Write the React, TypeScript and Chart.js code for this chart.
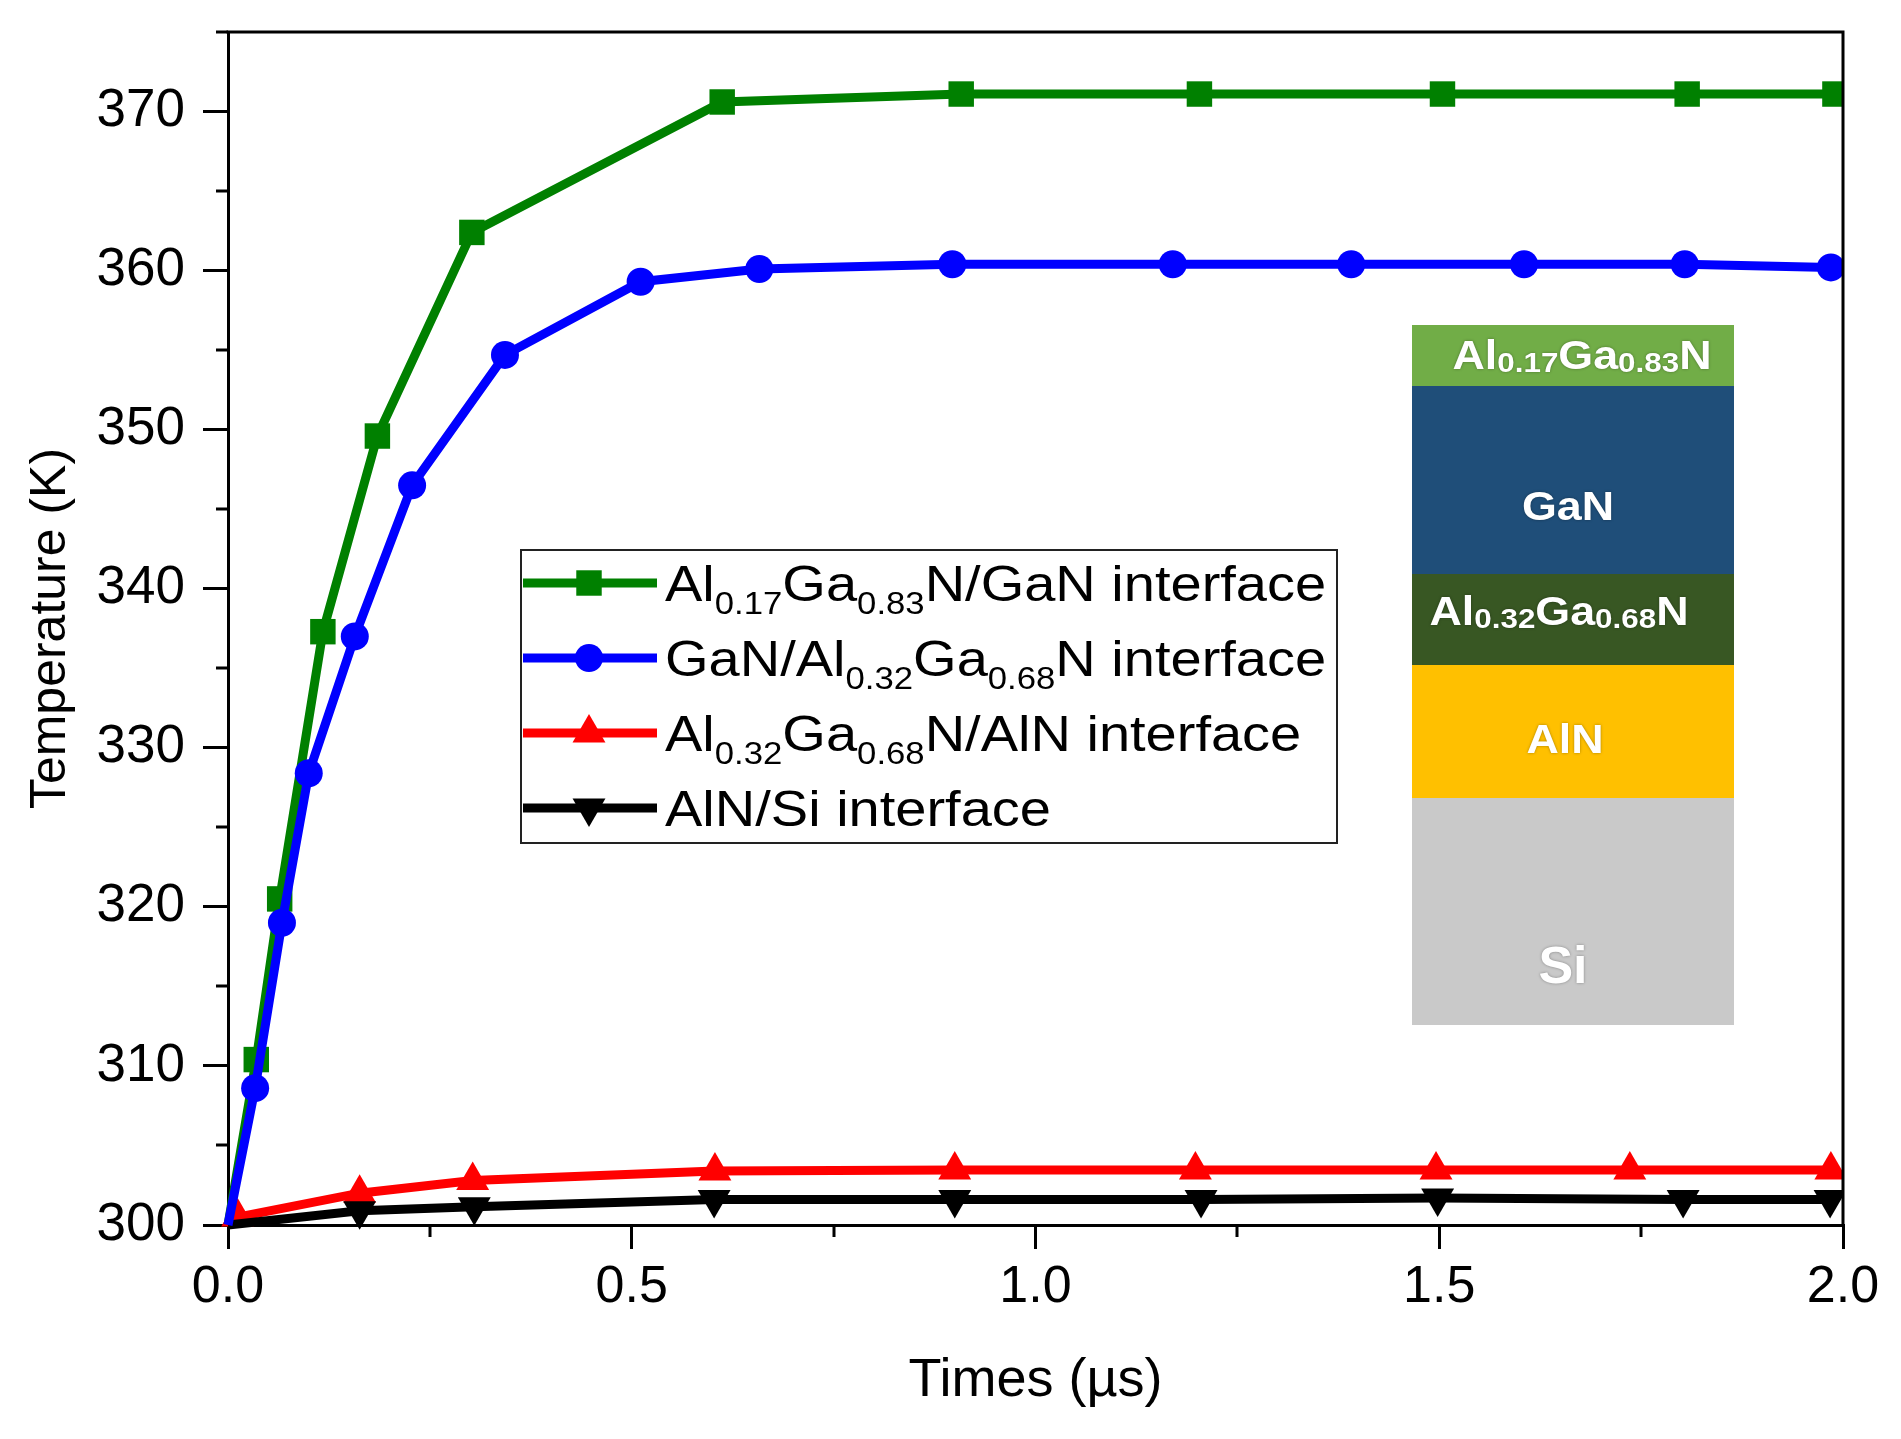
import React, { useEffect, useRef } from 'react';
import { Chart, registerables } from 'chart.js';

Chart.register(...registerables);

// ---------- data ----------
const SERIES_LABELS = [
  'Al_{0.17}Ga_{0.83}N/GaN interface',
  'GaN/Al_{0.32}Ga_{0.68}N interface',
  'Al_{0.32}Ga_{0.68}N/AlN interface',
  'AlN/Si interface',
];

const GREEN_T = [0, 0.035, 0.064, 0.1175, 0.185, 0.302, 0.612, 0.908, 1.203, 1.504, 1.807, 1.99];
const GREEN_K = [300, 310.4, 320.5, 337.3, 349.6, 362.4, 370.6, 371.1, 371.1, 371.1, 371.1, 371.1];

const BLUE_T = [0, 0.0336, 0.0668, 0.1, 0.157, 0.228, 0.343, 0.511, 0.658, 0.897, 1.17, 1.391, 1.605, 1.804, 1.985];
const BLUE_K = [300, 308.6, 319.0, 328.4, 337.0, 346.5, 354.7, 359.3, 360.1, 360.4, 360.4, 360.4, 360.4, 360.4, 360.2];

const RED_T = [0.012, 0.163, 0.303, 0.603, 0.9, 1.198, 1.496, 1.736, 1.985];
const RED_K = [300.5, 302.0, 302.8, 303.4, 303.45, 303.45, 303.45, 303.45, 303.45];

const BLACK_T = [0, 0.163, 0.305, 0.602, 0.9, 1.205, 1.498, 1.802, 1.984];
const BLACK_K = [300, 300.9, 301.15, 301.6, 301.6, 301.6, 301.7, 301.6, 301.6];

const X_MAJOR = [0, 0.5, 1.0, 1.5, 2.0];
const X_MINOR = [0.25, 0.75, 1.25, 1.75];
const Y_MAJOR = [300, 310, 320, 330, 340, 350, 360, 370];
const Y_MINOR = [305, 315, 325, 335, 345, 355, 365, 375];

const X_TITLE = 'Times (µs)';
const Y_TITLE = 'Temperature (K)';

const INSET_LAYERS = ['Al_{0.17}Ga_{0.83}N', 'GaN', 'Al_{0.32}Ga_{0.68}N', 'AlN', 'Si'];
const INSET_THICKNESS = [61, 188, 91, 133, 227];
const INSET_COLORS = ['#71AD47', '#1F4E79', '#385723', '#FFC000', '#C9C9C9'];

// ---------- styles ----------
const FAMILY = '"Liberation Sans", Arial, Helvetica, sans-serif';
const COLORS = ['#008000', '#0000FF', '#FF0000', '#000000'];
const STYLES = ['rect', 'circle', 'triangle', 'triangle'];
const ROTATIONS = [0, 0, 0, 180];
const RADII = [18, 14, 19, 19];
const ORDERS = [4, 1, 3, 2];
// inset label placement (offset of text centre from layer top, x offset, font size, stretch)
const INSET_TEXT_DY = [30, 120, 37, 74, 166];
const INSET_TEXT_DX = [9, -5, -14, -8, -10];
const INSET_TEXT_SIZE = [40, 40, 40, 40, 52];
const INSET_TEXT_STRETCH = [1.12, 1.12, 1.12, 1.12, 1.0];

function parseRich(s: string) {
  const parts: { t: string; sub: boolean }[] = [];
  const re = /_\{([^}]*)\}/g;
  let last = 0;
  let m: RegExpExecArray | null;
  while ((m = re.exec(s))) {
    if (m.index > last) parts.push({ t: s.slice(last, m.index), sub: false });
    parts.push({ t: m[1], sub: true });
    last = m.index + m[0].length;
  }
  if (last < s.length) parts.push({ t: s.slice(last), sub: false });
  return parts;
}

function drawRich(
  ctx: CanvasRenderingContext2D,
  s: string,
  x: number,
  baseY: number,
  o: { size: number; subSize: number; subDrop: number; weight: string; color: string; stretch: number; align: 'left' | 'center' }
) {
  const parts = parseRich(s);
  const fMain = `${o.weight} ${o.size}px ${FAMILY}`;
  const fSub = `${o.weight} ${o.subSize}px ${FAMILY}`;
  let w = 0;
  const widths = parts.map((p) => {
    ctx.font = p.sub ? fSub : fMain;
    const ww = ctx.measureText(p.t).width;
    w += ww;
    return ww;
  });
  ctx.save();
  ctx.translate(x, baseY);
  ctx.scale(o.stretch, 1);
  ctx.fillStyle = o.color;
  ctx.textBaseline = 'alphabetic';
  ctx.textAlign = 'left';
  let cx = o.align === 'center' ? -w / 2 : 0;
  parts.forEach((p, i) => {
    ctx.font = p.sub ? fSub : fMain;
    ctx.fillText(p.t, cx, p.sub ? o.subDrop : 0);
    cx += widths[i];
  });
  ctx.restore();
}

function drawMarker(ctx: CanvasRenderingContext2D, style: string, rot: number, r: number, x: number, y: number, color: string) {
  ctx.save();
  ctx.fillStyle = color;
  ctx.beginPath();
  if (style === 'rect') {
    const s = r * Math.SQRT1_2;
    ctx.rect(x - s, y - s, 2 * s, 2 * s);
  } else if (style === 'circle') {
    ctx.arc(x, y, r, 0, Math.PI * 2);
  } else {
    let rad = (rot * Math.PI) / 180;
    ctx.moveTo(x + Math.sin(rad) * r, y - Math.cos(rad) * r);
    rad += (2 * Math.PI) / 3;
    ctx.lineTo(x + Math.sin(rad) * r, y - Math.cos(rad) * r);
    rad += (2 * Math.PI) / 3;
    ctx.lineTo(x + Math.sin(rad) * r, y - Math.cos(rad) * r);
    ctx.closePath();
  }
  ctx.fill();
  ctx.restore();
}

const decorPlugin = {
  id: 'decor',
  afterDraw(chart: any) {
    const ctx: CanvasRenderingContext2D = chart.ctx;
    const { left, right, top, bottom } = chart.chartArea;
    const xs = chart.scales.x;
    const ys = chart.scales.y;

    // frame (top & right) and minor ticks
    ctx.save();
    ctx.strokeStyle = '#000';
    ctx.lineWidth = 3;
    ctx.beginPath();
    ctx.moveTo(left - 1.5, top);
    ctx.lineTo(right, top);
    ctx.lineTo(right, bottom + 1.5);
    ctx.stroke();
    ctx.beginPath();
    X_MINOR.forEach((v) => {
      const px = Math.round(xs.getPixelForValue(v));
      ctx.moveTo(px, bottom);
      ctx.lineTo(px, bottom + 12);
    });
    Y_MINOR.forEach((v) => {
      const py = Math.round(ys.getPixelForValue(v));
      ctx.moveTo(left - 12, py);
      ctx.lineTo(left, py);
    });
    ctx.stroke();
    ctx.restore();

    // inset layer stack
    const ix = left + 1184;
    const iw = 322;
    let iy = top + 293;
    INSET_LAYERS.forEach((name, i) => {
      const h = INSET_THICKNESS[i];
      ctx.fillStyle = INSET_COLORS[i];
      ctx.fillRect(ix, iy, iw, h);
      const big = INSET_TEXT_SIZE[i];
      const cy = iy + INSET_TEXT_DY[i];
      ctx.save();
      ctx.shadowColor = 'rgba(0,0,0,0.35)';
      ctx.shadowBlur = 3;
      drawRich(ctx, name, ix + iw / 2 + INSET_TEXT_DX[i], cy + big * 0.358, {
        size: big, subSize: 28, subDrop: 3, weight: 'bold', color: '#FFFFFF', stretch: INSET_TEXT_STRETCH[i], align: 'center',
      });
      ctx.restore();
      iy += h;
    });

    // legend
    const bx = left + 293;
    const by = top + 518;
    const bw = 816;
    const bh = 293;
    ctx.save();
    ctx.fillStyle = '#fff';
    ctx.fillRect(bx, by, bw, bh);
    ctx.strokeStyle = '#222';
    ctx.lineWidth = 2;
    ctx.strokeRect(bx, by, bw, bh);
    SERIES_LABELS.forEach((label, i) => {
      const ry = by + 33 + i * 75;
      ctx.strokeStyle = COLORS[i];
      ctx.lineWidth = 9;
      ctx.beginPath();
      ctx.moveTo(bx + 2, ry);
      ctx.lineTo(bx + 136, ry);
      ctx.stroke();
      drawMarker(ctx, STYLES[i], ROTATIONS[i], RADII[i], bx + 68, ry, COLORS[i]);
      drawRich(ctx, label, bx + 144, ry + 18, {
        size: 50, subSize: 31, subDrop: 13, weight: 'normal', color: '#000', stretch: 1.12, align: 'left',
      });
    });
    ctx.restore();
  },
};

function makeSeries(ts: number[], ks: number[]) {
  return ts.map((t, i) => ({ x: t, y: ks[i] }));
}

export default function App() {
  const ref = useRef<HTMLCanvasElement>(null);

  useEffect(() => {
    document.body.style.margin = '0';
    document.body.style.overflow = 'hidden';
    const series = [
      makeSeries(GREEN_T, GREEN_K),
      makeSeries(BLUE_T, BLUE_K),
      makeSeries(RED_T, RED_K),
      makeSeries(BLACK_T, BLACK_K),
    ];
    const datasets = series.map((data, i) => ({
      label: SERIES_LABELS[i],
      data,
      order: ORDERS[i],
      borderColor: COLORS[i],
      backgroundColor: COLORS[i],
      borderWidth: 9,
      pointStyle: STYLES[i],
      pointRotation: ROTATIONS[i],
      pointRadius: (c: any) => (c.raw && c.raw.x === 0 ? 0 : RADII[i]),
      pointHoverRadius: (c: any) => (c.raw && c.raw.x === 0 ? 0 : RADII[i]),
      pointBorderWidth: 0,
      pointBackgroundColor: COLORS[i],
      tension: 0,
      clip: { left: 40, top: 40, right: 0, bottom: 40 },
    }));

    const chart = new Chart(ref.current as HTMLCanvasElement, {
      type: 'line',
      data: { datasets } as any,
      options: {
        animation: false,
        responsive: false,
        devicePixelRatio: 1,
        events: [],
        layout: { padding: { left: 0, right: 58, top: 32, bottom: 0 } },
        plugins: { legend: { display: false }, tooltip: { enabled: false } },
        scales: {
          x: {
            type: 'linear',
            min: 0,
            max: 2,
            afterBuildTicks: (axis: any) => {
              axis.ticks = X_MAJOR.map((value) => ({ value }));
            },
            afterFit: (axis: any) => {
              axis.height = 214;
              axis.paddingLeft = 0;
              axis.paddingRight = 0;
            },
            ticks: {
              autoSkip: false,
              maxRotation: 0,
              padding: 7,
              color: '#000',
              font: { family: FAMILY, size: 52 },
              callback: (v: any) => Number(v).toFixed(1),
            },
            grid: { display: true, drawOnChartArea: false, drawTicks: true, tickLength: 24, tickWidth: 3, lineWidth: 3, tickColor: '#000', color: '#000' },
            border: { display: true, width: 3, color: '#000' },
            title: { display: true, text: X_TITLE, color: '#000', font: { family: FAMILY, size: 54 }, padding: { top: 0, bottom: 25 } },
          },
          y: {
            type: 'linear',
            min: 300,
            max: 375,
            afterBuildTicks: (axis: any) => {
              axis.ticks = Y_MAJOR.map((value) => ({ value }));
            },
            afterFit: (axis: any) => {
              axis.width = 228;
              axis.paddingTop = 0;
              axis.paddingBottom = 0;
            },
            ticks: {
              autoSkip: false,
              padding: 18,
              color: '#000',
              font: { family: FAMILY, size: 53 },
              callback: (v: any) => String(v),
            },
            grid: { display: true, drawOnChartArea: false, drawTicks: true, tickLength: 25, tickWidth: 3, lineWidth: 3, tickColor: '#000', color: '#000' },
            border: { display: true, width: 3, color: '#000' },
            title: { display: true, text: Y_TITLE, color: '#000', font: { family: FAMILY, size: 50 }, padding: { top: 21, bottom: 0 } },
          },
        },
      } as any,
      plugins: [decorPlugin],
    });
    return () => chart.destroy();
  }, []);

  return (
    <div style={{ width: 1901, height: 1439, background: '#fff' }}>
      <canvas ref={ref} width={1901} height={1439} style={{ display: 'block', width: 1901, height: 1439 }} />
    </div>
  );
}
